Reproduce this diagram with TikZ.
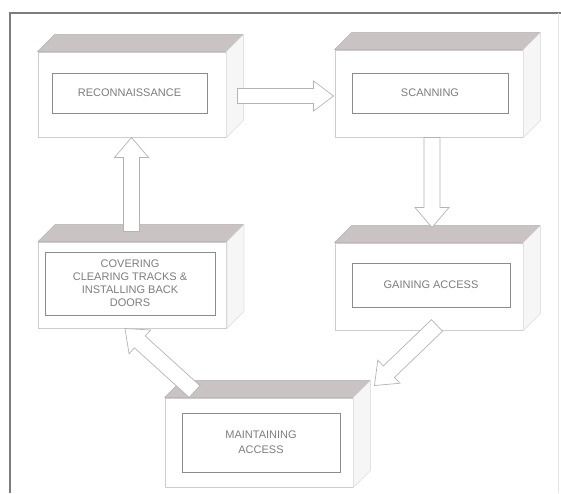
\documentclass[tikz,border=0pt]{standalone}
\usepackage{fontspec}
\setmainfont{Liberation Sans}
\usetikzlibrary{calc}
\definecolor{topface}{RGB}{202,195,196}
\definecolor{sideface}{RGB}{247,246,247}
\definecolor{frontedge}{RGB}{205,205,205}
\definecolor{inneredge}{RGB}{140,140,140}
\definecolor{txt}{RGB}{125,125,125}
\definecolor{arrowedge}{RGB}{180,180,180}
\definecolor{frameedge}{RGB}{125,125,125}
\tikzset{
  front/.style={draw=frontedge, fill=white, line width=0.9pt, minimum width=188pt, inner sep=0pt},
  innerbox/.style={draw=inneredge, line width=0.8pt, fill=white, align=center, text=txt,
    font=\fontsize{11}{13}\selectfont, inner sep=0pt},
  topf/.style={fill=topface, draw=topface!85!black, line width=0.4pt, line join=round},
  sidef/.style={fill=sideface, draw=frontedge!60!white, line width=0.6pt},
  blockarr/.style={draw=arrowedge, fill=white, line width=0.7pt, line join=miter},
}
\newcommand{\threedbox}[1]{%
  \draw[topf] (#1.north west) -- ++(17,-17) -- ($(#1.north east)+(17,-17)$) -- (#1.north east) -- cycle;
  \draw[sidef] (#1.north east) -- ++(17,-17) -- ($(#1.south east)+(17,-17)$) -- (#1.south east) -- cycle;
}
\newcommand{\blockarrow}[4]{%
  \coordinate (hb) at ($(#2)!20pt!(#1)$);
  \draw[blockarr] ($(#1)!#3!90:(#2)$) -- ($(hb)!#3!90:(#2)$) -- ($(hb)!#4!90:(#2)$) -- (#2)
     -- ($(hb)!#4!-90:(#2)$) -- ($(hb)!#3!-90:(#2)$) -- ($(#1)!#3!-90:(#2)$) -- cycle;
}
\begin{document}
\begin{tikzpicture}[x=1pt,y=-1pt]
\useasboundingbox (0,0) rectangle (561,493);
\fill[white] (0,0) rectangle (561,493);
% frame
\draw[frameedge, line width=1.2pt] (10,493) -- (10,13) -- (561,13);
\draw[gray!20, line width=0.6pt] (558,13) -- (558,493);

% boxes
\node[front, minimum height=85pt] (recon) at (132,94.5) {};
\threedbox{recon}
\node[innerbox, minimum width=155pt, minimum height=40pt] (reconin) at (129.5,93) {RECONNAISSANCE};

\node[front, minimum height=87pt] (scan) at (429,93.5) {};
\threedbox{scan}
\node[innerbox, minimum width=156pt, minimum height=40pt] (scanin) at (430,93) {SCANNING};

\node[front, minimum height=86pt] (cover) at (132.5,285) {};
\threedbox{cover}
\node[innerbox, minimum width=170pt, minimum height=63pt] (coverin) at (130,283.5) {COVERING\\CLEARING TRACKS \&\\INSTALLING BACK\\DOORS};

\node[front, minimum height=87pt] (gain) at (429,286.5) {};
\threedbox{gain}
\node[innerbox, minimum width=158pt, minimum height=44pt] (gainin) at (431,285) {GAINING ACCESS};

\node[front, minimum height=89pt] (maint) at (259,442.5) {};
\threedbox{maint}
\node[innerbox, minimum width=158pt, minimum height=59pt, font=\fontsize{11}{15}\selectfont] (maintin) at (261,442.5) {MAINTAINING\\ACCESS};

% arrow end points
\coordinate (a1s) at ($(recon.east)+(11,1.5)$);
\coordinate (a1e) at ($(scan.west)+(-1,2.5)$);
\coordinate (a2s) at ($(cover.north)+(-1,-10)$);
\coordinate (a2e) at ($(recon.south)+(-0.5,0)$);
\coordinate (a3s) at ($(scan.south)+(3,0)$);
\coordinate (a3e) at ($(gain.north)+(3,-15)$);
\coordinate (a4s) at ($(maint.north west)+(30,-6)$);
\coordinate (a4e) at ($(cover.south)+(-7.5,0)$);
\coordinate (a5s) at ($(gain.south)+(8,-5)$);
\coordinate (a5e) at ($(maint.north east)+(21,-12)$);

\blockarrow{a1s}{a1e}{7.5pt}{15pt}
\blockarrow{a2s}{a2e}{8pt}{17pt}
\blockarrow{a3s}{a3e}{8pt}{17pt}
\blockarrow{a4s}{a4e}{8pt}{16pt}
\blockarrow{a5s}{a5e}{8pt}{16pt}
\end{tikzpicture}
\end{document}
